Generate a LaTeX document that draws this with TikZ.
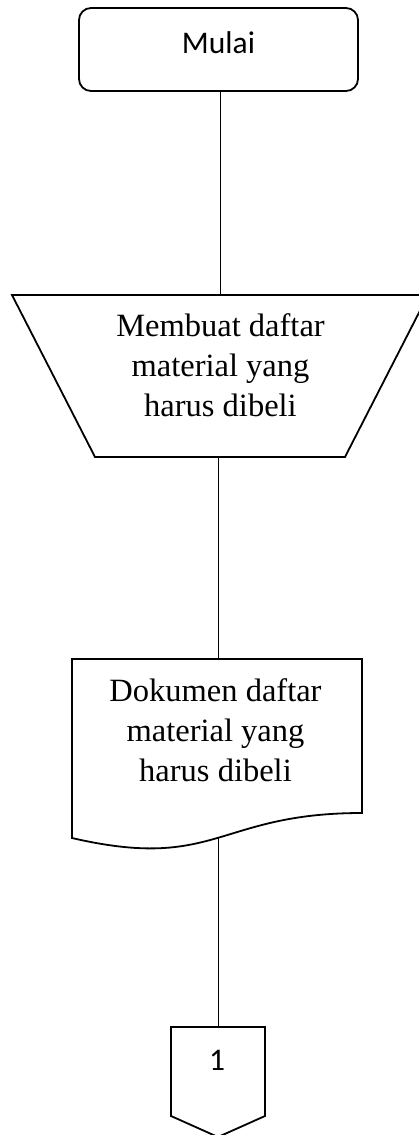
\documentclass[tikz,border=0pt]{standalone}
\usepackage{fontspec}
\setmainfont{Liberation Serif}
\newfontfamily\labelfont{Carlito}
\begin{document}
\begin{tikzpicture}[x=1pt,y=-1pt,
  shapeline/.style={draw=black, line width=1.8pt, line join=miter},
  link/.style={draw=black, line width=0.9pt},
  serifbody/.style={font=\fontsize{32.5}{40}\selectfont, align=center, inner sep=0pt},
  sanslabel/.style={font=\labelfont\fontsize{31.5}{36}\selectfont, inner sep=0pt}]
\useasboundingbox (0,0) rectangle (418,1135);

% start terminal
\node[shapeline, rounded corners=12pt, minimum width=279pt, minimum height=83pt,
      sanslabel, text height=21pt, text depth=14pt] (start) at (218.5,49.5) {Mulai};

% manual operation (trapezoid)
\draw[shapeline] (12,295) -- (428,295) -- (345,457) -- (95,457) -- cycle;
\coordinate (optop) at (220.5,295);
\coordinate (opbot) at (218,457);
\node[serifbody] (op) at (220.5,365) {Membuat daftar\\material yang\\harus dibeli};

% document
\draw[shapeline] (72,659) -- (362,659) -- (362,813)
  .. controls (217,813) and (217,871.6) .. (72,838) -- cycle;
\coordinate (doctop) at (218,659);
\coordinate (docbot) at (218,838);
\node[serifbody] (doc) at (215.5,730) {Dokumen daftar\\material yang\\harus dibeli};

% off-page connector
\draw[shapeline] (171,1027) -- (265,1027) -- (265,1116) -- (218,1137) -- (171,1116) -- cycle;
\coordinate (offtop) at (218,1027);
\node[sanslabel, anchor=base] (off) at (217,1070) {1};

% connectors
\draw[link] (start.south -| optop) -- (optop);
\draw[link] (opbot) -- (doctop);
\draw[link] (docbot) -- (offtop);
\end{tikzpicture}
\end{document}
